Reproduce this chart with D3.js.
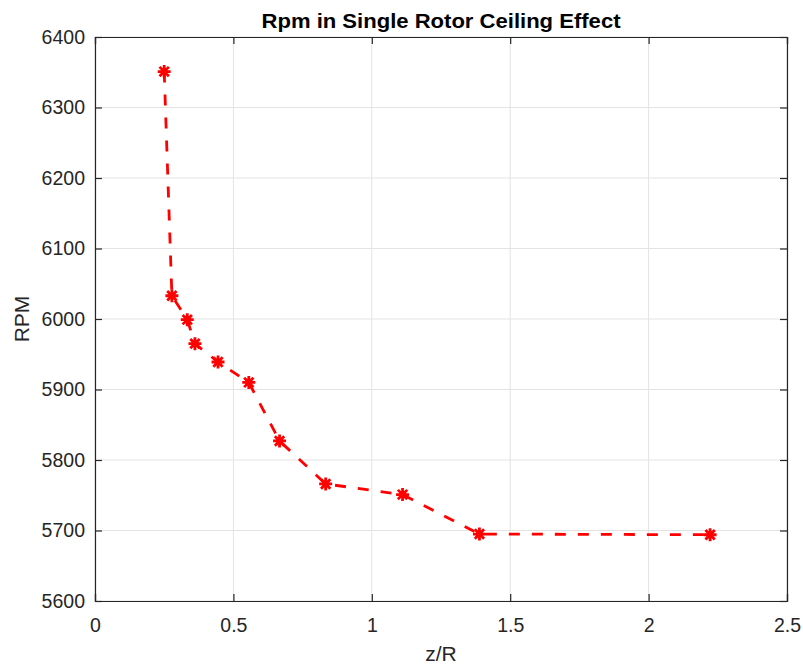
<!DOCTYPE html>
<html>
<head>
<meta charset="utf-8">
<script src="https://cdn.jsdelivr.net/npm/d3@7"></script>
<style>
  body { margin: 0; background: #fff; }
  svg text { font-family: "Liberation Sans", Arial, Helvetica, sans-serif; fill: #262626; }
</style>
</head>
<body>
<svg id="chart" width="803" height="668"></svg>
<script>
// z/R positions and measured rpm
var zR = [0.25, 0.2778, 0.3333, 0.3611, 0.4444, 0.5556, 0.6667, 0.8333, 1.1111, 1.3889, 2.2222];
var rpm = [6351, 6033, 5999, 5965, 5939, 5910, 5827, 5766, 5751, 5695, 5694];
var xTicks = [0, 0.5, 1, 1.5, 2, 2.5];
var yTicks = [5600, 5700, 5800, 5900, 6000, 6100, 6200, 6300, 6400];

var margin = {left: 95, right: 16, top: 37, bottom: 67};
var width = 803 - margin.left - margin.right,
    height = 668 - margin.top - margin.bottom;

var svg = d3.select("#chart");
var g = svg.append("g").attr("transform", "translate(" + margin.left + "," + margin.top + ")");

var x = d3.scaleLinear().domain([0, 2.5]).range([0, width]);
var y = d3.scaleLinear().domain([5600, 6400]).range([height, 0]);

// grid
g.append("g").selectAll("line").data(xTicks).enter().append("line")
    .attr("x1", function (d) { return x(d); }).attr("x2", function (d) { return x(d); })
    .attr("y1", 0).attr("y2", height)
    .attr("stroke", "#e3e3e3").attr("stroke-width", 1);
g.append("g").selectAll("line").data(yTicks).enter().append("line")
    .attr("y1", function (d) { return y(d); }).attr("y2", function (d) { return y(d); })
    .attr("x1", 0).attr("x2", width)
    .attr("stroke", "#e3e3e3").attr("stroke-width", 1);

// axes, ticks pointing inward like matlab
var xAxis = g.append("g").attr("transform", "translate(0," + height + ")")
    .call(d3.axisBottom(x).tickValues(xTicks).tickSize(-7).tickPadding(17)
        .tickFormat(function (d) { return d; }));
var xTop = g.append("g")
    .call(d3.axisTop(x).tickValues(xTicks).tickSize(-7).tickFormat(""));
var yAxis = g.append("g")
    .call(d3.axisLeft(y).tickValues(yTicks).tickSize(-7).tickPadding(10)
        .tickFormat(d3.format("d")));
var yRight = g.append("g").attr("transform", "translate(" + width + ",0)")
    .call(d3.axisRight(y).tickValues(yTicks).tickSize(-7).tickFormat(""));

[xAxis, xTop, yAxis, yRight].forEach(function (a) {
    a.attr("font-size", null).attr("font-family", null);
    a.select(".domain").attr("stroke", "#262626").attr("stroke-width", 1.2);
    a.selectAll(".tick line").attr("stroke", "#262626").attr("stroke-width", 1.2);
    a.selectAll(".tick text").style("font-size", "19.5px").attr("fill", "#262626");
});

// data line
var pts = zR.map(function (d, i) { return [d, rpm[i]]; });
var line = d3.line().x(function (d) { return x(d[0]); }).y(function (d) { return y(d[1]); });
g.append("path").datum(pts).attr("d", line)
    .attr("fill", "none").attr("stroke", "#ff0000")
    .attr("stroke-width", 2.8).attr("stroke-dasharray", "11,12");

// asterisk markers
var r = 6.5, r2 = r * 0.72;
var star = "M" + (-r) + ",0L" + r + ",0M0," + (-r) + "L0," + r +
    "M" + (-r2) + "," + (-r2) + "L" + r2 + "," + r2 +
    "M" + (-r2) + "," + r2 + "L" + r2 + "," + (-r2);
g.append("g").selectAll("path").data(pts).enter().append("path")
    .attr("transform", function (d) { return "translate(" + x(d[0]) + "," + y(d[1]) + ")"; })
    .attr("d", star)
    .attr("fill", "none").attr("stroke", "#ff0000").attr("stroke-width", 2.8);

// labels
svg.append("text").attr("x", margin.left + width / 2).attr("y", 28)
    .attr("text-anchor", "middle").style("font-size", "21px").attr("font-weight", "bold")
    .attr("textLength", 359).attr("lengthAdjust", "spacingAndGlyphs")
    .style("fill", "#000").text("Rpm in Single Rotor Ceiling Effect");
svg.append("text").attr("x", margin.left + width / 2).attr("y", 661)
    .attr("text-anchor", "middle").style("font-size", "21px").text("z/R");
svg.append("text").attr("transform", "translate(29," + (margin.top + height / 2) + ") rotate(-90)")
    .attr("text-anchor", "middle").style("font-size", "21px").text("RPM");
</script>
</body>
</html>
